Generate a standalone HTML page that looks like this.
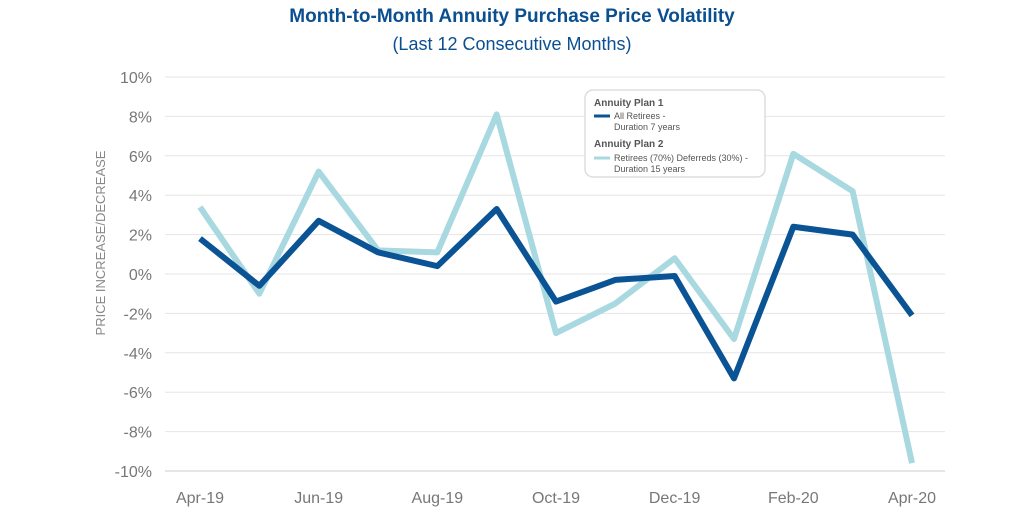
<!DOCTYPE html>
<html><head><meta charset="utf-8"><style>
body{margin:0;background:#fff;font-family:"Liberation Sans",sans-serif;}
svg{display:block}
</style></head><body>
<svg id="c" width="1024" height="512">
<text x="512" y="22" text-anchor="middle" font-size="19" font-weight="bold" fill="#0a4f8f">Month-to-Month Annuity Purchase Price Volatility</text>
<text x="512" y="50" text-anchor="middle" font-size="18" fill="#0a4f8f">(Last 12 Consecutive Months)</text>
<text transform="translate(105,243) rotate(-90)" text-anchor="middle" font-size="13" fill="#888">PRICE INCREASE/DECREASE</text>
<g id="grid"></g><g id="lines"></g>
<g>
<rect x="585" y="90" width="180" height="87" rx="8" fill="#fff" stroke="#ddd" stroke-width="1.5"/>
<text x="594" y="106" font-size="10" font-weight="bold" fill="#555">Annuity Plan 1</text>
<line x1="594" y1="116" x2="610" y2="116" stroke="#0a5394" stroke-width="3"/>
<text x="614" y="119" font-size="9" fill="#555">All Retirees -</text>
<text x="614" y="130" font-size="9" fill="#555">Duration 7 years</text>
<text x="594" y="147" font-size="10" font-weight="bold" fill="#555">Annuity Plan 2</text>
<line x1="594" y1="158" x2="610" y2="158" stroke="#a8d8e0" stroke-width="3"/>
<text x="614" y="161" font-size="9" fill="#555">Retirees (70%) Deferreds (30%) -</text>
<text x="614" y="172" font-size="9" fill="#555">Duration 15 years</text>
</g>
</svg>
<script>
const months=["Apr-19","May-19","Jun-19","Jul-19","Aug-19","Sep-19","Oct-19","Nov-19","Dec-19","Jan-20","Feb-20","Mar-20","Apr-20"];
const plan1=[1.8,-0.6,2.7,1.1,0.4,3.3,-1.4,-0.3,-0.1,-5.3,2.4,2.0,-2.1];
const plan2=[3.4,-1.0,5.2,1.2,1.1,8.1,-3.0,-1.5,0.8,-3.3,6.1,4.2,-9.6];
const yTicks=[10,8,6,4,2,0,-2,-4,-6,-8,-10];
const NS="http://www.w3.org/2000/svg";
const X=i=>200+i*(712/12), Y=v=>274-v*19.7;
const g=document.getElementById('grid'),L=document.getElementById('lines');
yTicks.forEach(t=>{
 const l=document.createElementNS(NS,'line');
 
 
 l.setAttribute('x1',165);l.setAttribute('x2',945);l.setAttribute('y1',Y(t));l.setAttribute('y2',Y(t));
 l.setAttribute('stroke',t===-10?'#ccc':'#e6e6e6');g.appendChild(l);
 const s=document.createElementNS(NS,'text');
 
 
 s.setAttribute('x',152);s.setAttribute('y',Y(t)+6);s.setAttribute('text-anchor','end');
 s.setAttribute('font-size','16');s.setAttribute('fill','#777');s.textContent=t+'%';g.appendChild(s);
});
months.forEach((m,i)=>{ if(i%2) return;
 const s=document.createElementNS(NS,'text');
 
 
 s.setAttribute('x',X(i));s.setAttribute('y',503);s.setAttribute('text-anchor','middle');
 s.setAttribute('font-size','16');s.setAttribute('fill','#777');s.textContent=m;g.appendChild(s);
});
[[plan2,'#a8d8e0','plan2-line'],[plan1,'#0a5394','plan1-line']].forEach(([d,c,n])=>{
 const p=document.createElementNS(NS,'polyline');
 
 
 p.setAttribute('points',d.map((v,i)=>X(i)+','+Y(v)).join(' '));
 p.setAttribute('fill','none');p.setAttribute('stroke',c);p.setAttribute('stroke-width',6);
 p.setAttribute('stroke-linejoin','round');L.appendChild(p);
});
</script>
</body></html>
